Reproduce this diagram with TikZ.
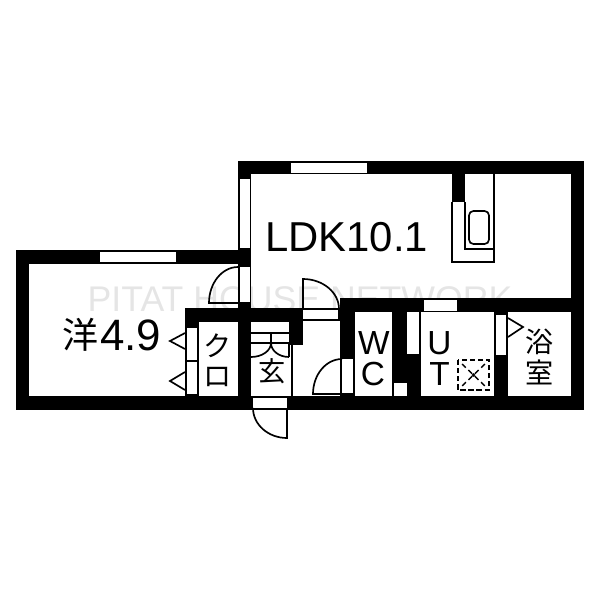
\documentclass[tikz,border=0pt]{standalone}
\usepackage{fontspec}
\setmainfont{Liberation Sans}
\newfontfamily\jpfont{Noto Sans CJK JP}
\begin{document}
\begin{tikzpicture}[x=0.02cm, y=-0.02cm,
	wall/.style={fill=black, draw=none},
	cell/.style={fill=white, draw=none},
	thin line/.style={draw=black, line width=0.95pt},
	room/.style={inner sep=0pt, anchor=base, font=\fontsize{19}{20}\selectfont},
	jlabel/.style={inner sep=0pt, font=\jpfont\fontsize{16}{18}\selectfont},
	mark text/.style={inner sep=0pt, text=black!10, font=\fontsize{20.3}{22}\selectfont}]
	\useasboundingbox (0,0) rectangle (600,600);

	% watermark
	\node (mark) [mark text] at (300,299) {PITAT HOUSE NETWORK};

	% walls
	\fill[wall] (16,250) rectangle (251,264);
	\fill[wall] (16,250) rectangle (29,410);
	\fill[wall] (16,396) rectangle (584,410);
	\fill[wall] (238,161) rectangle (584,174);
	\fill[wall] (238,161) rectangle (251,410);
	\fill[wall] (571,161) rectangle (584,410);
	\fill[wall] (340,298) rectangle (584,312);
	\fill[wall] (185,308) rectangle (303,322);
	\fill[wall] (185,308) rectangle (199,410);
	\fill[wall] (289.5,308) rectangle (303,345);
	\fill[wall] (340,298) rectangle (355,410);
	\fill[wall] (392,298) rectangle (407,410);
	\fill[wall] (392,354) rectangle (421,410);
	\fill[wall] (494,298) rectangle (508,410);
	\fill[wall] (452,174) rectangle (465,202);
	\fill[wall] (419,312) rectangle (421,354);
	\fill[wall] (303,308) rectangle (340,321);

	% windows and door openings
	\fill[cell] (100,252) rectangle (176,262);
	\fill[cell] (291,163) rectangle (367,173);
	\fill[cell] (240,179) rectangle (250,248);
	\fill[cell] (240,267) rectangle (250,302);
	\fill[cell] (424,300) rectangle (457,311);
	\fill[cell] (187,328) rectangle (197,360);
	\fill[cell] (187,362) rectangle (197,394);
	\fill[cell] (303,310) rectangle (338,319);
	\fill[cell] (342,359) rectangle (353,393);
	\fill[cell] (407,312) rectangle (419,354);
	\fill[cell] (496,315) rectangle (506,355);
	\fill[cell] (394,383) rectangle (407,396);
	\fill[cell] (253,398) rectangle (287,408);

	% doors
	\draw[thin line] (238,267) arc[start angle=-90, end angle=-180, x radius=29, y radius=36] -- ++(29,0);
	\draw[thin line] (303,309) -- (303,279) arc[start angle=-90, end angle=0, x radius=36, y radius=30] -- cycle;
	\draw[thin line] (342,359) arc[start angle=-90, end angle=-180, x radius=29, y radius=35] -- ++(29,0);
	\draw[thin line] (253,408) arc[start angle=180, end angle=90, x radius=34, y radius=30] -- (287,408);
	\draw[thin line] (185,333) -- (170,341) -- (185,349);
	\draw[thin line] (185,372) -- (170,381) -- (185,390);
	\draw[thin line] (508,318) -- (523,327) -- (508,337);

	% genkan
	\draw[thin line] (251,333) -- (289,333);
	\draw[thin line] (251,343) -- (289,343);
	\draw[thin line] (271,333) -- (271,343);
	\draw[thin line] (271,343) arc[start angle=0, end angle=90, x radius=20, y radius=14];
	\draw[thin line] (271,343) arc[start angle=180, end angle=90, x radius=18, y radius=14];
	\draw[thin line] (289,343) -- (289,357);
	\draw[thin line] (292,345) -- (292,396);

	% kitchen
	\draw[thin line] (465,202) -- (465,249) -- (494,249);
	\draw[thin line] (494,174) -- (494,262) -- (452,262) -- (452,202);
	\draw[thin line, rounded corners=2.5pt] (469,211) rectangle (489,244);

	% laundry pan
	\draw[line width=1.1pt, dash pattern=on 3pt off 1.6pt] (458,360) rectangle (489,390);
	\draw[line width=0.8pt, dash pattern=on 3pt off 2pt] (462,364) -- (485,386);
	\draw[line width=0.8pt, dash pattern=on 3pt off 2pt] (485,364) -- (462,386);
	\fill (473.5,375) circle[radius=1.8];

	% labels
	\node (ldk) [room, anchor=base west, font=\fontsize{23.8}{25}\selectfont] at (265,251) {LDK10.1};
	\node (yo) [room, anchor=base west, font=\fontsize{25}{26}\selectfont] at (100,350) {4.9};
	\node (yoj) [jlabel, font=\jpfont\fontsize{20.5}{22}\selectfont] at (81,335) {洋};
	\node (ku) [jlabel] at (218,346) {ク};
	\node (ro) [jlabel] at (218,377) {ロ};
	\node (gen) [jlabel, font=\jpfont\fontsize{15.5}{18}\selectfont] at (272,371) {玄};
	\node (w) [room] at (374,354) {W};
	\node (c) [room] at (373,385) {C};
	\node (u) [room] at (439.5,354) {U};
	\node (t) [room] at (439.5,385) {T};
	\node (yoku) [jlabel] at (540,342) {浴};
	\node (shitsu) [jlabel] at (540,372) {室};
\end{tikzpicture}
\end{document}
